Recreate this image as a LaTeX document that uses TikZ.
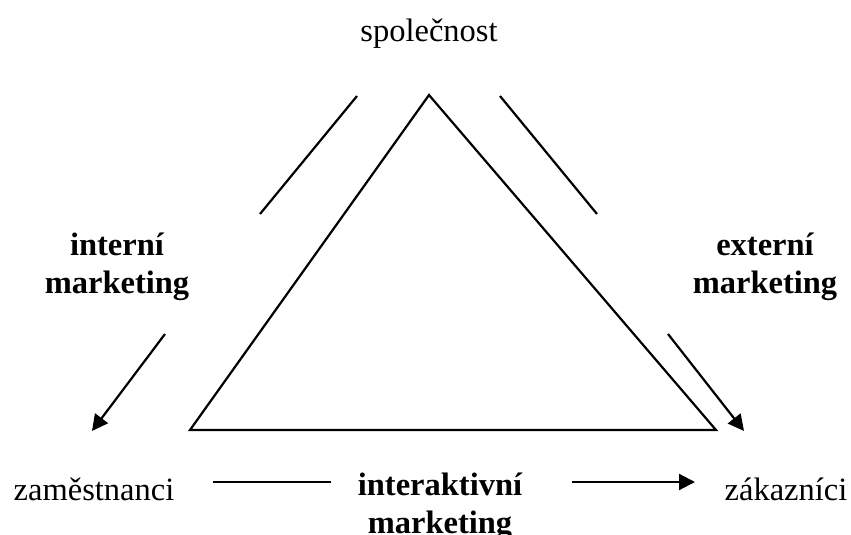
\documentclass[tikz,border=0pt]{standalone}
\usepackage{fontspec}
\setmainfont{Liberation Serif}
\usetikzlibrary{arrows.meta}
\begin{document}
\begin{tikzpicture}[x=1pt,y=-1pt,
  lbl/.style={font=\fontsize{32.5}{38}\selectfont, inner sep=0pt, align=center},
  blbl/.style={lbl, font=\fontsize{32.5}{38}\selectfont\bfseries},
  ln/.style={line width=2.2pt},
  arr/.style={ln, -{Triangle[length=16pt,width=16pt]}}]
\useasboundingbox (0,0) rectangle (851,535);
% corner labels
\node[lbl] (spol) at (429,34) {společnost};
\node[lbl] (zam) at (94,489) {zaměstnanci};
\node[lbl] (zak) at (786,489) {zákazníci};
% side labels
\node[blbl] (int) at (117,267) {interní\\marketing};
\node[blbl] (ext) at (765,267) {externí\\marketing};
\node[blbl] (inter) at (440,507) {interaktivní\\marketing};
% central triangle
\coordinate (top) at (429,95);
\coordinate (bl) at (190,430);
\coordinate (br) at (716,430);
\draw[ln, line join=miter] (top) -- (br) -- (bl) -- cycle;
% connector end points
\coordinate (l1) at (357,96);  \coordinate (l2) at (260,214);
\coordinate (r1) at (500,96);  \coordinate (r2) at (597,214);
\coordinate (la1) at (165,334); \coordinate (la2) at (92,431);
\coordinate (ra1) at (668,334); \coordinate (ra2) at (744,431);
\coordinate (b1) at (213,482); \coordinate (b2) at (331,482);
\coordinate (b3) at (572,482); \coordinate (b4) at (695,482);
% connectors
\draw[ln] (l1) -- (l2);
\draw[ln] (r1) -- (r2);
\draw[arr] (la1) -- (la2);
\draw[arr] (ra1) -- (ra2);
\draw[ln] (b1) -- (b2);
\draw[arr] (b3) -- (b4);
\end{tikzpicture}
\end{document}
